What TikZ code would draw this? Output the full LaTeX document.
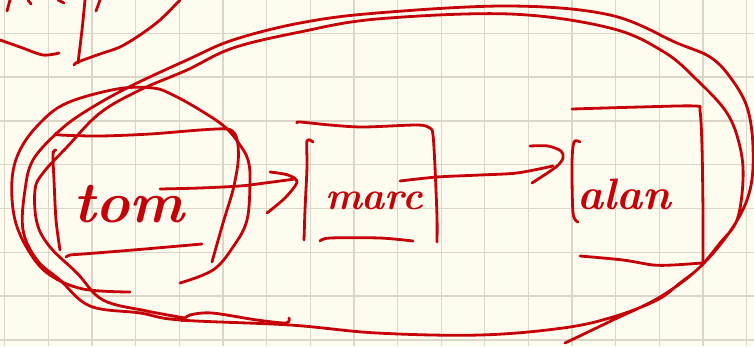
\documentclass[tikz,border=0pt]{standalone}
\usepackage{xcolor}
\definecolor{paper}{RGB}{253,252,238}
\definecolor{gridc}{RGB}{218,215,200}
\definecolor{ink}{RGB}{198,0,8}
\tikzset{
  inkline/.style={draw=ink, line width=2.8pt, line cap=round, line join=round},
  hw/.style={text=ink, inner sep=0pt, anchor=base},
}
\begin{document}
\begin{tikzpicture}[x=1pt,y=-1pt]
\fill[paper] (0,0) rectangle (754,346);
\useasboundingbox (0,0) rectangle (754,346);
\foreach \i in {0,...,17} \draw[gridc, line width=1.3pt] ({4.65+43.65*\i},0) -- ({4.65+43.65*\i},346);
\foreach \j in {0,...,7} \draw[gridc, line width=1.3pt] (0,{33.3+43.8*\j}) -- (754,{33.3+43.8*\j});

% top-left fragments
\draw[inkline] plot[smooth] coordinates {(0,40) (20,47) (43,55) (59,53)};
\draw[inkline] plot[smooth] coordinates {(85,0) (82,30) (78,63)};
\draw[inkline] plot[smooth] coordinates {(74,65) (78,62) (100,54) (120,47) (140,35) (160,20) (180,0)};
\draw[inkline] (10,0) -- (7,11);
\draw[inkline] (28,0) -- (31,4);
\draw[inkline] (58,0) -- (64,3);
\draw[inkline] (100,0) -- (96,11);

% circle around tom
\draw[inkline] plot[smooth, tension=0.6] coordinates {(180,283) (213,270) (233,247) (247,220) (250,180) (248,160) (240,145) (225,127) (200,110) (173,95) (153,88) (117,89) (67,103) (40,123) (20,150) (12,180) (15,220) (30,253) (50,275) (83,289) (130,292)};

% big double oval
\draw[inkline] plot[smooth, tension=0.6] coordinates {(565,343) (613,320) (660,297) (700,267) (733,227) (750,190) (753,147) (747,107) (730,77) (710,57) (677,43) (610,15) (510,6) (377,13) (300,23) (233,40) (187,60) (127,88) (83,113) (57,133) (33,160) (25,190) (23,230) (37,260) (60,280) (90,306) (140,313) (180,320) (290,325) (377,333) (480,335) (563,328) (613,317) (657,300) (680,283) (700,267) (720,243) (737,220) (743,180) (740,147) (727,113) (697,80) (664,52) (610,28) (510,14) (377,19) (300,32) (233,48) (187,70) (140,90) (100,113) (67,147) (43,173) (35,190) (37,223) (50,247) (77,273) (103,300) (147,311) (185,318)};
\draw[inkline] plot[smooth] coordinates {(182,321) (190,315) (212,313) (257,320) (286,323) (289,318)};

% tom box
\draw[inkline] plot[smooth, tension=0.5] coordinates {(56,133) (60,135) (100,136) (150,134) (200,130) (227,129) (235,134) (238,145) (238,163) (233,190) (223,223) (212,262)};
\draw[inkline] plot[smooth] coordinates {(56,150) (53,154) (54,180) (56,220) (60,250)};
\draw[inkline] plot[smooth] coordinates {(66,257) (70,255) (83,254) (133,250) (202,244)};
\node[hw, font=\bfseries\itshape\fontsize{58}{58}\selectfont] (tom) at (129,222) {tom};

% arrow tom -> marc
\draw[inkline] plot[smooth] coordinates {(160,189) (200,188) (240,186) (265,183) (295,179)};
\draw[inkline] plot[smooth] coordinates {(270,172) (288,175) (297,182) (285,198) (267,213)};

% marc box
\draw[inkline] plot[smooth, tension=0.5] coordinates {(297,123) (300,122) (330,125) (363,127) (417,125) (430,128) (433,135) (435,167) (437,217) (437,242)};
\draw[inkline] plot[smooth] coordinates {(313,142) (307,141) (307,167) (305,210) (304,240)};
\draw[inkline] plot[smooth] coordinates {(320,241) (330,238) (380,238) (413,241)};
\node[hw, font=\bfseries\itshape\fontsize{39}{39}\selectfont] (marc) at (374,209) {marc};

% arrow marc -> alan
\draw[inkline] plot[smooth] coordinates {(400,181) (437,177) (480,175) (517,173) (553,166)};
\draw[inkline] plot[smooth] coordinates {(530,146) (548,146) (561,151) (563,158) (556,167) (532,183)};

% alan box
\draw[inkline] plot[smooth, tension=0.5] coordinates {(572,109) (640,107) (695,106) (700,111) (702,147) (703,213) (703,262)};
\draw[inkline] plot[smooth] coordinates {(580,142) (574,142) (572,163) (573,213) (578,222)};
\draw[inkline] plot[smooth] coordinates {(580,256) (623,260) (653,265) (673,265) (702,263)};
\node[hw, font=\bfseries\itshape\fontsize{44}{44}\selectfont] (alan) at (624,209) {alan};
\end{tikzpicture}
\end{document}
